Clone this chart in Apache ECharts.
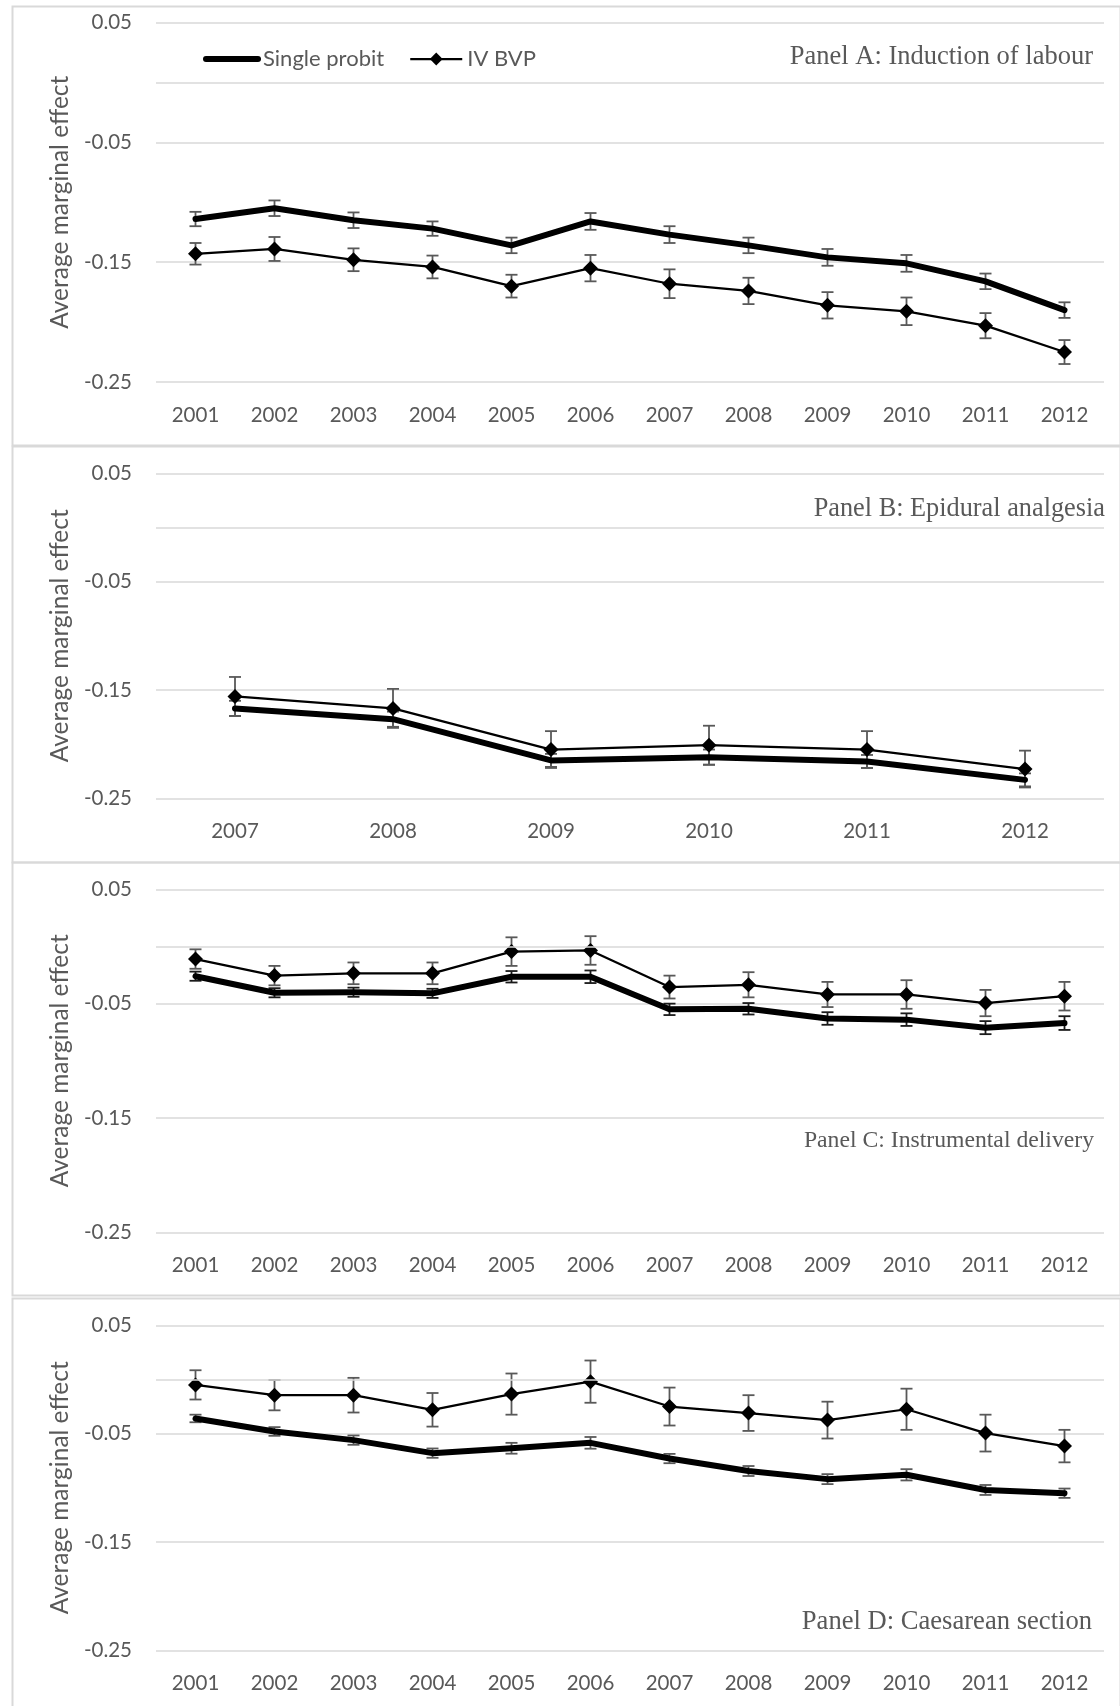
<!DOCTYPE html>
<html>
<head>
<meta charset="utf-8">
<script src="https://cdn.jsdelivr.net/npm/echarts@6.0.0/dist/echarts.min.js"></script>
<style>
  html, body { margin: 0; padding: 0; background: #fff; }
  #chart { width: 1120px; height: 1706px; }
</style>
</head>
<body>
<div id="chart"></div>
<script>
// years on the x axis
const yearsFull = ['2001', '2002', '2003', '2004', '2005', '2006', '2007', '2008', '2009', '2010', '2011', '2012'];
const yearsEpidural = ['2007', '2008', '2009', '2010', '2011', '2012'];

// Panel A: induction of labour
const probitInduction = [-0.114, -0.105, -0.115, -0.122, -0.136, -0.116, -0.127, -0.136, -0.146, -0.151, -0.166, -0.190];
const probitInductionErr = [0.006, 0.0065, 0.0065, 0.006, 0.0065, 0.007, 0.007, 0.0065, 0.007, 0.007, 0.0065, 0.0065];
const ivInduction = [-0.143, -0.139, -0.148, -0.154, -0.170, -0.155, -0.168, -0.174, -0.186, -0.191, -0.203, -0.225];
const ivInductionErr = [0.009, 0.010, 0.0095, 0.0095, 0.0095, 0.011, 0.012, 0.011, 0.011, 0.0115, 0.0105, 0.010];

// Panel B: epidural analgesia
const probitEpidural = [-0.167, -0.177, -0.215, -0.212, -0.216, -0.233];
const probitEpiduralErr = [0.007, 0.007, 0.006, 0.007, 0.006, 0.006];
const ivEpidural = [-0.156, -0.167, -0.205, -0.201, -0.205, -0.223];
const ivEpiduralErr = [0.018, 0.018, 0.017, 0.018, 0.017, 0.017];

// Panel C: instrumental delivery
const probitInstrumental = [-0.026, -0.0405, -0.040, -0.041, -0.0265, -0.0265, -0.055, -0.0545, -0.063, -0.064, -0.071, -0.067];
const probitInstrumentalErr = [0.004, 0.004, 0.004, 0.004, 0.005, 0.0055, 0.005, 0.005, 0.0055, 0.0055, 0.0057, 0.006];
const ivInstrumental = [-0.011, -0.0255, -0.0235, -0.0235, -0.0045, -0.0035, -0.0355, -0.0335, -0.042, -0.042, -0.0495, -0.0435];
const ivInstrumentalErr = [0.0085, 0.0085, 0.0095, 0.0095, 0.0125, 0.0125, 0.010, 0.011, 0.011, 0.0125, 0.0115, 0.0125];

// Panel D: caesarean section
const probitCaesarean = [-0.036, -0.048, -0.056, -0.068, -0.0635, -0.0585, -0.073, -0.0845, -0.092, -0.088, -0.102, -0.105];
const probitCaesareanErr = [0.0035, 0.004, 0.0043, 0.0043, 0.005, 0.0054, 0.0043, 0.0046, 0.0046, 0.0052, 0.0046, 0.0043];
const ivCaesarean = [-0.005, -0.0145, -0.0145, -0.028, -0.0135, -0.002, -0.025, -0.031, -0.0375, -0.0275, -0.0495, -0.0615];
const ivCaesareanErr = [0.0135, 0.014, 0.016, 0.0155, 0.019, 0.0195, 0.0175, 0.0165, 0.017, 0.019, 0.017, 0.015];

const grey = '#595959';
const gridGrey = '#d9d9d9';
const sans = 'Lato';

const panels = [
  { title: 'Panel A: Induction of labour', years: yearsFull, probit: probitInduction, probitErr: probitInductionErr,
    iv: ivInduction, ivErr: ivInductionErr, top: 22.5, height: 359.5, box: [4, 439],
    titleRight: 27, titleY: 58, titleSize: 26.5, probitBarColor: grey },
  { title: 'Panel B: Epidural analgesia', years: yearsEpidural, probit: probitEpidural, probitErr: probitEpiduralErr,
    iv: ivEpidural, ivErr: ivEpiduralErr, top: 473.3, height: 325, box: [444, 416],
    titleRight: 15, titleY: 510, titleSize: 26.3, probitBarColor: grey },
  { title: 'Panel C: Instrumental delivery', years: yearsFull, probit: probitInstrumental, probitErr: probitInstrumentalErr,
    iv: ivInstrumental, ivErr: ivInstrumentalErr, top: 889.3, height: 343, box: [860, 433],
    titleRight: 26, titleY: 1142, titleSize: 23.7, probitBarColor: '#1a1a1a' },
  { title: 'Panel D: Caesarean section', years: yearsFull, probit: probitCaesarean, probitErr: probitCaesareanErr,
    iv: ivCaesarean, ivErr: ivCaesareanErr, top: 1325.3, height: 325, box: [1296, 430],
    titleRight: 28, titleY: 1623, titleSize: 26.6, probitBarColor: grey },
];

function errorBars(color) {
  return function (params, api) {
    const lo = api.coord([api.value(0), api.value(1)]);
    const hi = api.coord([api.value(0), api.value(2)]);
    const w = 6;
    const st = { stroke: color, lineWidth: 1.8 };
    return {
      type: 'group',
      children: [
        { type: 'line', shape: { x1: lo[0], y1: lo[1], x2: hi[0], y2: hi[1] }, style: st },
        { type: 'line', shape: { x1: lo[0] - w, y1: lo[1], x2: lo[0] + w, y2: lo[1] }, style: st },
        { type: 'line', shape: { x1: hi[0] - w, y1: hi[1], x2: hi[0] + w, y2: hi[1] }, style: st },
      ],
    };
  };
}

const grid = [], xAxis = [], yAxis = [], series = [], title = [], graphic = [];

panels.forEach((p, i) => {
  graphic.push({
    type: 'rect', left: 10, top: p.box[0], silent: true, z: -10,
    shape: { width: 1108, height: p.box[1] },
    style: { fill: 'none', stroke: gridGrey, lineWidth: 2 },
  });
  title.push({
    text: p.title, right: p.titleRight, top: p.titleY - p.titleSize / 2 - 1, padding: 0,
    textStyle: { fontFamily: 'Liberation Serif', fontWeight: 'normal', fontSize: p.titleSize, color: grey },
  });
  grid.push({ left: 156, right: 16, top: p.top, height: p.height });
  xAxis.push({
    gridIndex: i, type: 'category', data: p.years,
    axisLine: { show: false }, axisTick: { show: false },
    axisLabel: { color: grey, fontFamily: sans, fontSize: 20.5, margin: 23 },
  });
  yAxis.push({
    gridIndex: i, type: 'value', min: -0.25, max: 0.05, interval: 0.1,
    name: 'Average marginal effect', nameLocation: 'middle', nameGap: 79,
    nameTextStyle: { color: grey, fontFamily: sans, fontSize: 24.5 },
    axisLine: { show: false }, axisTick: { show: false },
    axisLabel: { color: grey, fontFamily: sans, fontSize: 20.5, margin: 24, formatter: (v) => v.toFixed(2) },
    splitLine: { lineStyle: { color: gridGrey, width: 1.5 } },
  });
  series.push({
    type: 'custom', xAxisIndex: i, yAxisIndex: i, silent: true, z: 2,
    renderItem: errorBars(p.probitBarColor),
    encode: { x: 0, y: [1, 2] },
    data: p.probit.map((v, j) => [j, v - p.probitErr[j], v + p.probitErr[j]]),
    // extra gridline at zero
    markLine: {
      silent: true, symbol: ['none', 'none'], label: { show: false },
      lineStyle: { color: gridGrey, width: 1.5, type: 'solid' },
      data: [{ yAxis: 0 }],
    },
  });
  series.push({
    type: 'custom', xAxisIndex: i, yAxisIndex: i, silent: true, z: 2,
    renderItem: errorBars(grey),
    encode: { x: 0, y: [1, 2] },
    data: p.iv.map((v, j) => [j, v - p.ivErr[j], v + p.ivErr[j]]),
  });
  series.push({
    name: 'Single probit', type: 'line', xAxisIndex: i, yAxisIndex: i, z: 3,
    data: p.probit, symbol: 'none',
    lineStyle: { color: '#000', width: 6, cap: 'round', join: 'round' },
    itemStyle: { color: '#000' },
  });
  series.push({
    name: 'IV BVP', type: 'line', xAxisIndex: i, yAxisIndex: i, z: 4,
    data: p.iv, symbol: 'diamond', symbolSize: 15,
    lineStyle: { color: '#000', width: 2.25 },
    itemStyle: { color: '#000' },
  });
});

const chart = echarts.init(document.getElementById('chart'));
chart.setOption({
  backgroundColor: '#fff',
  animation: false,
  title,
  legend: {
    data: [
      { name: 'Single probit', itemStyle: { color: 'rgba(0,0,0,0)', borderWidth: 0 },
        lineStyle: { width: 6, cap: 'round' } },
      { name: 'IV BVP', lineStyle: { width: 2.25 } },
    ],
    left: 198, top: 43,
    itemWidth: 52, itemHeight: 16, itemGap: 25,
    textStyle: { color: grey, fontFamily: sans, fontSize: 22 },
  },
  graphic,
  grid,
  xAxis,
  yAxis,
  series,
});
</script>
</body>
</html>
